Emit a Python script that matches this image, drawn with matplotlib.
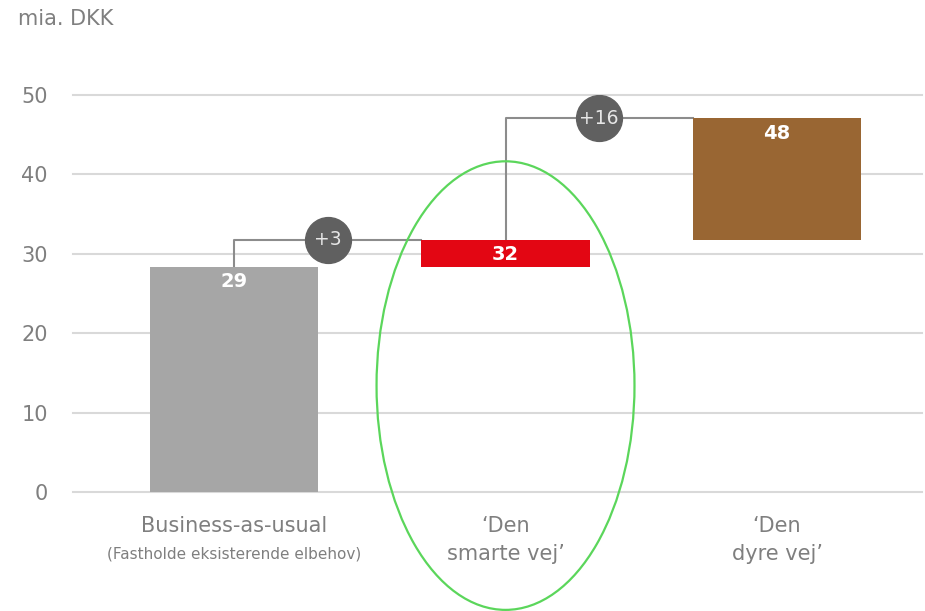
import matplotlib

matplotlib.use("Agg")
import matplotlib.pyplot as plt  # noqa: E402
from matplotlib.patches import Ellipse  # noqa: E402

plt.rcParams["font.family"] = ["DejaVu Sans"]

# data
categories = ["Business-as-usual", "\u2018Den\nsmarte vej\u2019", "\u2018Den\ndyre vej\u2019"]
subtitles = ["(Fastholde eksisterende elbehov)", "", ""]
bottoms = [0.0, 28.4, 31.8]
tops = [28.4, 31.8, 47.1]
value_labels = ["29", "32", "48"]
step_labels = ["+3", "+16"]
yticks = [0, 10, 20, 30, 40, 50]

COLORS = ["#a6a6a6", "#e30613", "#996633"]
TXT = "#7f7f7f"
W = 0.62

fig = plt.figure(figsize=(9.25, 6.11), dpi=100)
ax = fig.add_axes([0.0789, 0.1948, 0.9179, 0.6497])
ax.set_xlim(-0.593, 2.534)
ax.set_ylim(0, 50)

for y in yticks:
    ax.axhline(y, color="#d9d9d9", lw=1.5, zorder=0, clip_on=False)

xs = range(len(categories))
for x, b, t, c, lab in zip(xs, bottoms, tops, COLORS, value_labels):
    ax.bar(x, t - b, bottom=b, width=W, color=c, zorder=2)
    ax.text(x, t - 0.7, lab, ha="center", va="top", color="white",
            fontsize=14, fontweight="bold", zorder=4)

# connectors with step bubbles
for i, lab in enumerate(step_labels):
    y0, y1 = tops[i], tops[i + 1]
    x0, x1 = i, i + 1 - W / 2
    ax.plot([x0, x0, x1], [y0, y1, y1], color="#8c8c8c", lw=1.5, zorder=1)
    xm = (x0 + x1) / 2
    ax.plot(xm, y1, "o", ms=33, color="#606060", zorder=3)
    ax.text(xm, y1, lab, ha="center", va="center", color="#e6e6e6",
            fontsize=13.5, zorder=4)

ax.add_patch(Ellipse((1.0, 13.4), 0.95, 56.5, fill=False, ec="#5bd65b",
                     lw=1.6, clip_on=False, zorder=5))

ax.set_yticks(yticks)
ax.set_yticklabels([str(y) for y in yticks], color=TXT, fontsize=15)
ax.tick_params(axis="y", length=0, pad=18)
ax.set_xticks(list(xs))
ax.set_xticklabels([])
ax.tick_params(axis="x", length=0)
for x, cat, sub in zip(xs, categories, subtitles):
    ax.text(x, -3.0, cat, ha="center", va="top", color=TXT, fontsize=15,
            linespacing=1.5)
    if sub:
        ax.text(x, -6.9, sub, ha="center", va="top", color=TXT, fontsize=11)

for s in ax.spines.values():
    s.set_visible(False)

fig.text(18 / 925, 1 - 19 / 611, "mia. DKK", ha="left", va="center",
         color=TXT, fontsize=15)

fig.savefig("out.png", dpi=100)
